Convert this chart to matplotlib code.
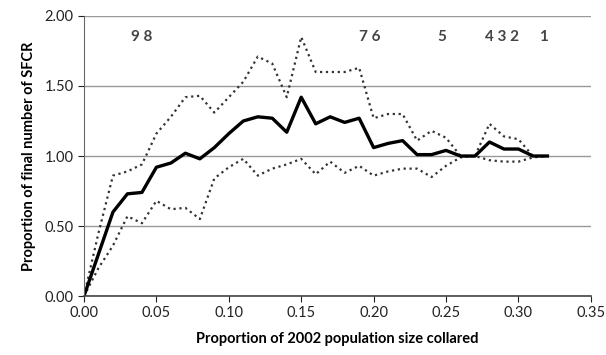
import matplotlib
matplotlib.use("Agg")
import matplotlib.pyplot as plt
import numpy as np

plt.rcParams['font.family'] = ['Lato', 'DejaVu Sans']

x = [i / 100 for i in range(33)]
mean = [0.00, 0.30, 0.60, 0.73, 0.74, 0.92, 0.95, 1.02, 0.98, 1.06, 1.16, 1.25, 1.28, 1.27,
        1.17, 1.42, 1.23, 1.28, 1.24, 1.27, 1.06, 1.09, 1.11, 1.01, 1.01, 1.04, 1.00, 1.00,
        1.10, 1.05, 1.05, 1.00, 1.00]
upper = [0.00, 0.45, 0.86, 0.89, 0.94, 1.16, 1.28, 1.42, 1.43, 1.31, 1.42, 1.53, 1.71, 1.66,
         1.42, 1.85, 1.60, 1.60, 1.60, 1.63, 1.27, 1.30, 1.30, 1.11, 1.18, 1.13, 1.00, 1.00,
         1.23, 1.14, 1.12, 1.00, 1.00]
lower = [0.00, 0.20, 0.36, 0.57, 0.52, 0.68, 0.62, 0.63, 0.55, 0.84, 0.92, 0.98, 0.86, 0.91,
         0.94, 0.98, 0.87, 0.96, 0.88, 0.93, 0.86, 0.89, 0.91, 0.91, 0.85, 0.93, 0.99, 1.00,
         0.97, 0.96, 0.96, 0.99, 1.00]
marker_labels = ["9 8", "7 6", "5", "4 3 2", "1"]
marker_x = [0.040, 0.197, 0.247, 0.2885, 0.317]
marker_y = 1.85

fig = plt.figure(figsize=(6.06, 3.55), dpi=100)
ax = fig.add_axes([0.1386, 0.166, 0.8364, 0.789])

ax.plot(x, upper, color='#333333', linestyle=':', linewidth=1.6)
ax.plot(x, lower, color='#333333', linestyle=':', linewidth=1.6)
ax.plot(x, mean, color='black', linewidth=2.4)

for lab, mx in zip(marker_labels, marker_x):
    ax.text(mx, marker_y, lab, ha='center', va='center', fontsize=11, fontweight='bold',
            color='#444444')

ax.set_xlim(0, 0.35)
ax.set_ylim(0, 2.0)
ax.set_xticks(np.arange(0, 0.351, 0.05))
ax.set_xticklabels([f"{v:.2f}" for v in np.arange(0, 0.351, 0.05)])
ax.set_yticks(np.arange(0, 2.01, 0.5))
ax.set_yticklabels([f"{v:.2f}" for v in np.arange(0, 2.01, 0.5)])
ax.yaxis.grid(True, color='#999999', linewidth=1.0)
ax.set_axisbelow(True)
for s in ['top', 'right']:
    ax.spines[s].set_visible(False)
ax.spines['left'].set_color('#666666')
ax.spines['bottom'].set_color('#444444')
ax.spines['bottom'].set_linewidth(1.2)
ax.tick_params(axis='both', labelsize=10.5, colors='#222222', length=4, direction='out')
ax.set_xlabel('Proportion of 2002 population size collared', fontsize=10.5, fontweight='bold', labelpad=8)
ax.set_ylabel('Proportion of final number of SFCR', fontsize=10.5, fontweight='bold', labelpad=6)

fig.savefig('out.png', dpi=100)
